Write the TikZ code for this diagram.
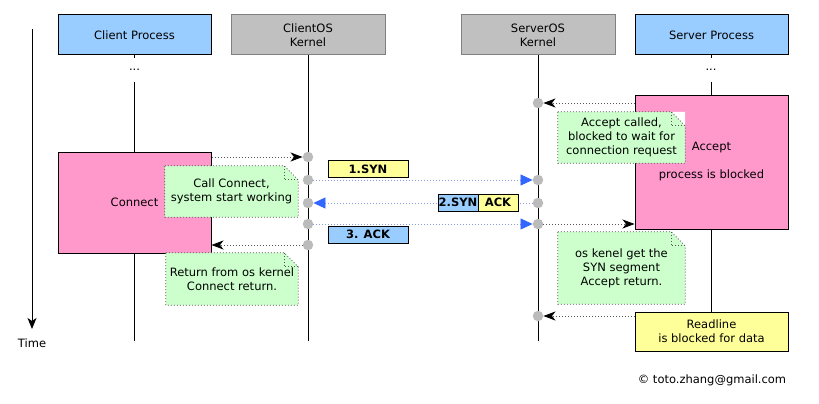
\documentclass[tikz,border=0pt]{standalone}
\usepackage{fontspec}
\setmainfont{DejaVu Sans}
\usetikzlibrary{arrows.meta}
\definecolor{procblue}{HTML}{99CCFF}
\definecolor{kgray}{HTML}{C0C0C0}
\definecolor{kborder}{HTML}{808080}
\definecolor{pinkbox}{HTML}{FF99CC}
\definecolor{yel}{HTML}{FFFF99}
\definecolor{notegreen}{HTML}{CCFFCC}
\definecolor{dotgray}{HTML}{BBBBBB}
\definecolor{arrblue}{HTML}{3366FF}
\definecolor{lineblue}{HTML}{8899DD}
\definecolor{notedot}{HTML}{555555}
\tikzset{
  every node/.style={font=\fontsize{11.5}{14}\selectfont, inner sep=0pt},
  proc/.style={draw=black, line width=1pt, fill=procblue, minimum width=153pt, minimum height=40pt},
  kern/.style={draw=kborder, line width=1pt, fill=kgray, minimum width=154pt, minimum height=40pt, align=center},
  actbox/.style={draw=black, line width=1pt, fill=pinkbox, minimum width=153pt, align=center},
  readbox/.style={draw=black, line width=1pt, fill=yel, minimum width=153pt, minimum height=39pt, align=center},
  lifeline/.style={line width=1pt, black},
  kdot/.style={circle, fill=dotgray, minimum size=10.5pt},
  segy/.style={draw=black, line width=1pt, fill=yel, minimum width=80pt, minimum height=17pt, font=\fontsize{11.5}{13}\bfseries\selectfont},
  segb/.style={segy, fill=procblue},
  localmsg/.style={line width=0.8pt, notedot, dash pattern=on 1pt off 2pt, -{Stealth[length=12pt,width=9pt,inset=3.5pt,black]}},
  netmsg/.style={line width=0.8pt, lineblue, dash pattern=on 1pt off 2pt, -{Triangle[length=12pt,width=11pt,arrblue]}},
  notebg/.style={inner sep=0pt},
  notetext/.style={align=center},
  notedash/.style={line width=0.8pt, notedot, dash pattern=on 1pt off 2pt},
}
\newcommand\notenode[5]{%
  \node[notebg, minimum width=#3, minimum height=#4] (#1) at #2 {};
  \fill[notegreen] (#1.north west) -- ([xshift=-14pt]#1.north east) -- ([yshift=-14pt]#1.north east) -- (#1.south east) -- (#1.south west) -- cycle;
  \fill[white] ([xshift=-14pt]#1.north east) -- (#1.north east) -- ([yshift=-14pt]#1.north east) -- cycle;
  \draw[notedash] (#1.north west) -- ([xshift=-14pt]#1.north east) -- ([yshift=-14pt]#1.north east) -- (#1.south east) -- (#1.south west) -- cycle;
  \draw[notedash] ([xshift=-14pt]#1.north east) |- ([yshift=-14pt]#1.north east);
  \node[notetext] (#1-text) at (#1.center) {#5};}
\begin{document}
\begin{tikzpicture}[x=1pt,y=-1pt]
\useasboundingbox[fill=white] (0,0) rectangle (819,404);

% time axis
\coordinate (t0) at (32,29);
\coordinate (t1) at (32,329);
\draw[line width=1pt, -{Stealth[length=11pt,width=9pt,inset=3pt]}] (t0) -- (t1);
\node (time) at (32,343) {Time};

% heads
\node[proc] (cp) at (134.5,35) {Client Process};
\node[kern] (cok) at (308,35) {ClientOS\\Kernel};
\node[kern] (sok) at (538,35) {ServerOS\\Kernel};
\node[proc] (sp) at (711.5,35) {Server Process};

% activation boxes
\node[actbox, minimum height=101pt] (connect) at (134.5,202.5) {Connect};
\node[actbox, minimum height=134pt] (accept) at (711.5,162) {Accept\\[14pt]process is blocked};
\node[readbox] (readline) at (711.5,331.5) {Readline\\is blocked for data};

% dots on process lifelines
\node (cpdots) at (134.5,70) {...};
\node (spdots) at (711,70) {...};
\coordinate (cpa) at (134.5,58);
\coordinate (cpb) at (134.5,82);
\coordinate (cpe) at (134.5,341);
\coordinate (spa) at (711,58);
\coordinate (spb) at (711,82);
\coordinate (coke) at (308,341);
\coordinate (soke) at (538,341);

% lifelines
\draw[lifeline] (cp.south) -- (cpa);
\draw[lifeline] (cpb) -- (connect.north);
\draw[lifeline] (connect.south) -- (cpe);
\draw[lifeline] (sp.south -| spa) -- (spa);
\draw[lifeline] (spb) -- (accept.north -| spb);
\draw[lifeline] (accept.south -| spb) -- (readline.north -| spb);
\draw[lifeline] (cok.south) -- (coke);
\draw[lifeline] (sok.south) -- (soke);

% kernel dots
\node[kdot] (c1) at (308,157) {};
\node[kdot] (c2) at (308,180) {};
\node[kdot] (c3) at (308,203) {};
\node[kdot] (c4) at (308,224) {};
\node[kdot] (c5) at (308,245) {};
\node[kdot] (s0) at (538,103) {};
\node[kdot] (s2) at (538,180) {};
\node[kdot] (s3) at (538,203) {};
\node[kdot] (s4) at (538,224) {};
\node[kdot] (s5) at (538,316) {};

% local messages
\draw[localmsg] (connect.east |- c1) -- (c1);
\draw[localmsg] (c5) -- (connect.east |- c5);
\draw[localmsg] (accept.west |- s0) -- (s0);
\draw[localmsg] (s4) -- (accept.west |- s4);
\draw[localmsg] (readline.west |- s5) -- (s5);

% network messages
\draw[netmsg] (c2) -- (s2);
\draw[netmsg] (s3) -- (c3);
\draw[netmsg] (c4) -- (s4);

% segment labels
\node[segy] (syn1) at (368,169) {1.SYN};
\node[segb, minimum width=40pt] (syn2) at (458,202.5) {2.SYN};
\node[segy, minimum width=40pt] (ack2) at (498,202.5) {ACK};
\node[segb] (ack3) at (368,234.5) {3. ACK};

% notes
\notenode{n1}{(231.5,191.5)}{133pt}{51pt}{Call Connect,\\system start working}
\notenode{n2}{(232,279)}{132pt}{52pt}{Return from os kernel\\Connect return.}
\notenode{n3}{(621.5,137.5)}{127pt}{51pt}{Accept called,\\blocked to wait for\\connection request}
\notenode{n4}{(621.5,268)}{127pt}{72pt}{os kenel get the\\SYN segment\\Accept return.}

\node (copy) at (712,380) {© toto.zhang@gmail.com};
\end{tikzpicture}
\end{document}
